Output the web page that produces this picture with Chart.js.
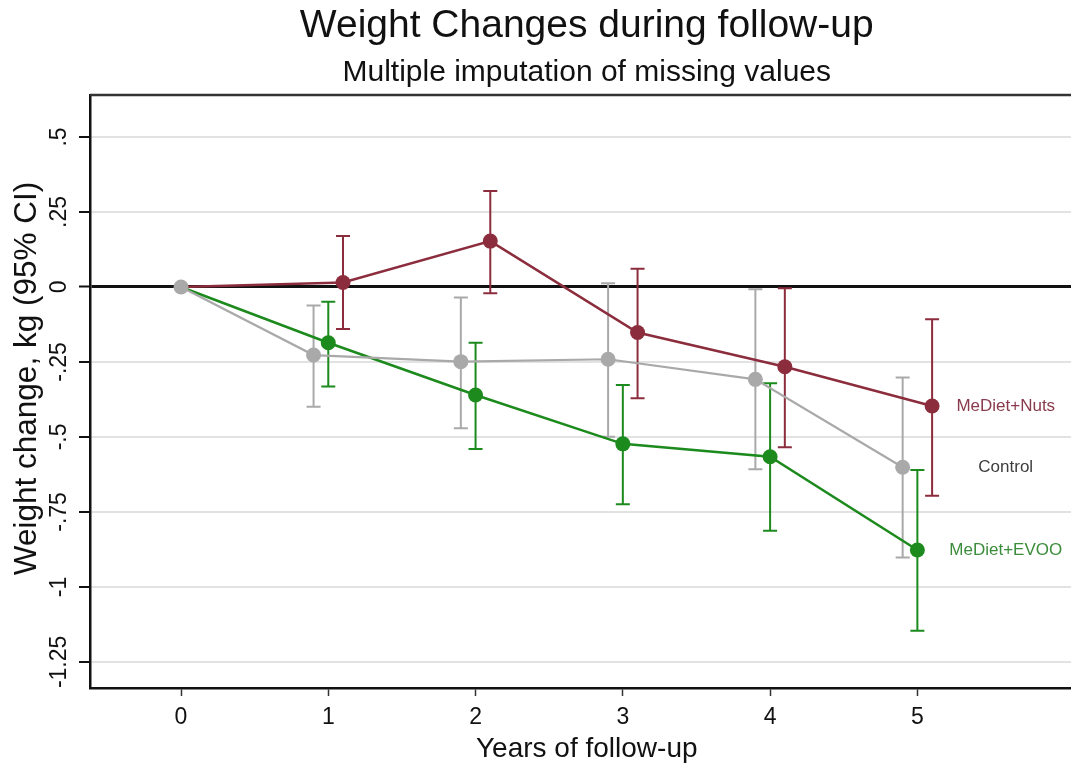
<!DOCTYPE html>
<html><head><meta charset="utf-8">
<script src="https://cdn.jsdelivr.net/npm/chart.js@4.4.1/dist/chart.umd.min.js"></script>
<style>
html,body{margin:0;padding:0;background:#fff;overflow:hidden;width:1071px;height:766px;}
#wrap{position:relative;width:1091px;height:766px;}
</style></head><body>
<div id="wrap"><canvas id="c" width="1091" height="766"></canvas></div>
<script>
// ---- data ----
const years = [0, 1, 2, 3, 4, 5];
const xTicks = [0, 1, 2, 3, 4, 5];
const yTicks = [0.5, 0.25, 0, -0.25, -0.5, -0.75, -1, -1.25];
const yTickLabels = ['.5', '.25', '0', '-.25', '-.5', '-.75', '-1', '-1.25'];

const nutsMean = [0, 0.015, 0.153, -0.152, -0.266, -0.397];
const nutsLow  = [null, -0.14, -0.021, -0.371, -0.534, -0.696];
const nutsHigh = [null, 0.17, 0.32, 0.061, -0.004, -0.108];

const controlMean = [0, -0.227, -0.249, -0.241, -0.308, -0.601];
const controlLow  = [null, -0.399, -0.471, -0.499, -0.608, -0.902];
const controlHigh = [null, -0.062, -0.035, 0.012, -0.008, -0.302];

const evooMean = [0, -0.186, -0.36, -0.523, -0.566, -0.877];
const evooLow  = [null, -0.332, -0.54, -0.724, -0.813, -1.146];
const evooHigh = [null, -0.049, -0.186, -0.327, -0.321, -0.61];

const seriesNames = ['Control', 'MeDiet+Nuts', 'MeDiet+EVOO'];
const yTitle = 'Weight change, kg (95% CI)';

// ---- styling ----
const F = '"Liberation Sans", Arial, Helvetica, sans-serif';
const COL_NUTS = '#8c2d3d', COL_CTRL = '#a9a9a9', COL_EVOO = '#1c8a1c';
const LBL_NUTS = '#8a3a4c', LBL_CTRL = '#3d3d3d', LBL_EVOO = '#3b8d3b';

function pts(means, shift) {
  return years.map((yr, i) => ({ x: yr === 0 ? 0 : yr + shift, y: means[i] }));
}

function ds(label, means, lo, hi, shift, color, lblColor, width, hideFirst) {
  return {
    label, data: pts(means, shift), ciLow: lo, ciHigh: hi, labelColor: lblColor,
    borderColor: color, backgroundColor: color, borderWidth: width,
    pointRadius: c => (hideFirst && c.dataIndex === 0) ? 0 : 7.5,
    pointBackgroundColor: color, pointBorderWidth: 0, pointHoverRadius: 7.5,
    tension: 0, fill: false
  };
}

const errorBars = {
  id: 'errorBars',
  beforeDatasetsDraw(chart) {
    const { ctx, scales: { x, y } } = chart;
    ctx.save();
    chart.data.datasets.forEach(d => {
      d.data.forEach((p, j) => {
        if (d.ciLow[j] == null) return;
        const px = x.getPixelForValue(p.x);
        const yl = y.getPixelForValue(d.ciLow[j]);
        const yh = y.getPixelForValue(d.ciHigh[j]);
        ctx.strokeStyle = d.borderColor;
        ctx.lineWidth = 2;
        ctx.beginPath();
        ctx.moveTo(px, yl); ctx.lineTo(px, yh);
        ctx.moveTo(px - 7, yl); ctx.lineTo(px + 7, yl);
        ctx.moveTo(px - 7, yh); ctx.lineTo(px + 7, yh);
        ctx.stroke();
      });
    });
    ctx.restore();
  }
};

const frame = {
  id: 'frame',
  afterDraw(chart) {
    const { ctx, chartArea: a, scales: { y } } = chart;
    ctx.save();
    ctx.strokeStyle = '#333';
    ctx.lineWidth = 2.5;
    ctx.beginPath();
    ctx.moveTo(a.left, a.top); ctx.lineTo(a.right, a.top);
    ctx.stroke();
    // rotated y tick labels
    ctx.fillStyle = '#111';
    ctx.font = '23px ' + F;
    ctx.textAlign = 'center';
    ctx.textBaseline = 'alphabetic';
    yTicks.forEach((v, i) => {
      const py = y.getPixelForValue(v);
      ctx.save();
      ctx.translate(66, py);
      ctx.rotate(-Math.PI / 2);
      ctx.fillText(yTickLabels[i], 0, 0);
      ctx.restore();
    });
    // y axis title
    ctx.font = '31.5px ' + F;
    ctx.textBaseline = 'middle';
    ctx.save();
    ctx.translate(27, (a.top + a.bottom) / 2 - 13);
    ctx.rotate(-Math.PI / 2);
    ctx.fillText(yTitle, 0, 0);
    ctx.restore();
    ctx.restore();
  }
};

const endLabels = {
  id: 'endLabels',
  afterDatasetsDraw(chart) {
    const { ctx, scales: { x, y } } = chart;
    ctx.save();
    ctx.font = '17px ' + F;
    ctx.textAlign = 'center';
    ctx.textBaseline = 'middle';
    chart.data.datasets.forEach(d => {
      const last = d.data[d.data.length - 1];
      ctx.fillStyle = d.labelColor;
      ctx.fillText(d.label, x.getPixelForValue(5.6), y.getPixelForValue(last.y));
    });
    ctx.restore();
  }
};

new Chart(document.getElementById('c'), {
  type: 'line',
  data: {
    datasets: [
      ds(seriesNames[0], controlMean, controlLow, controlHigh, -0.1, COL_CTRL, LBL_CTRL, 2.2, false),
      ds(seriesNames[1], nutsMean, nutsLow, nutsHigh, 0.1, COL_NUTS, LBL_NUTS, 2.5, true),
      ds(seriesNames[2], evooMean, evooLow, evooHigh, 0, COL_EVOO, LBL_EVOO, 2.5, true)
    ]
  },
  plugins: [errorBars, endLabels, frame],
  options: {
    responsive: false,
    animation: false,
    events: [],
    layout: { padding: 0 },
    plugins: {
      legend: { display: false },
      tooltip: { enabled: false },
      title: {
        display: true, text: 'Weight Changes during follow-up', fullSize: false,
        color: '#111', font: { family: F, size: 39, weight: 'normal', lineHeight: 1 },
        padding: { top: 7, bottom: 0 }
      },
      subtitle: {
        display: true, text: 'Multiple imputation of missing values', fullSize: false,
        color: '#111', font: { family: F, size: 30, weight: 'normal', lineHeight: 1 },
        padding: { top: 12, bottom: 7 }
      }
    },
    scales: {
      x: {
        type: 'linear', min: -0.618, max: 6.128,
        afterBuildTicks: s => { s.ticks = xTicks.map(v => ({ value: v })); },
        afterFit: s => { s.height = 78; s.paddingLeft = 0; s.paddingRight = 0; },
        grid: { drawOnChartArea: false, drawTicks: true, tickLength: 8, tickColor: '#333', tickWidth: 1.5 },
        border: { display: true, color: '#111', width: 2.5 },
        ticks: { font: { family: F, size: 23 }, color: '#111', padding: 8, maxRotation: 0, autoSkip: false,
                 callback: v => String(v) },
        title: { display: true, text: 'Years of follow-up', font: { family: F, size: 28 }, color: '#111',
                 padding: { top: 0, bottom: 0 } }
      },
      y: {
        type: 'linear', min: -1.337, max: 0.64,
        afterBuildTicks: s => { s.ticks = yTicks.map(v => ({ value: v })); },
        afterFit: s => { s.width = 90; s.paddingTop = 0; s.paddingBottom = 0; },
        grid: {
          color: c => (c.tick && c.tick.value === 0) ? '#111' : '#e2e2e2',
          lineWidth: c => (c.tick && c.tick.value === 0) ? 3 : 2,
          drawTicks: true, tickLength: 11, tickColor: '#111', tickWidth: 2
        },
        border: { display: true, color: '#111', width: 2.5 },
        ticks: { display: false },
        title: { display: false }
      }
    }
  }
});
</script>
</body></html>
